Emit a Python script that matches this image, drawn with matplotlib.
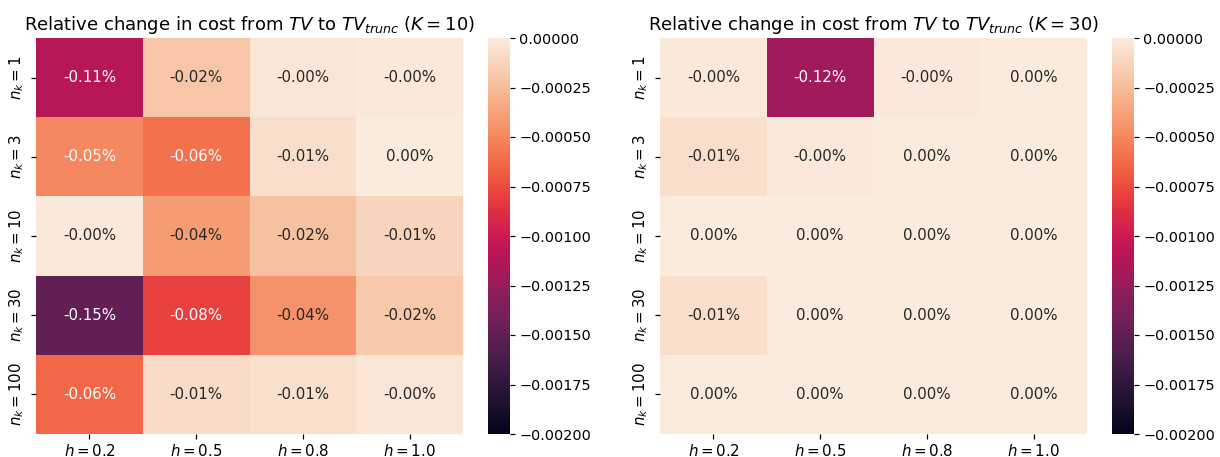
import numpy as np
import matplotlib
matplotlib.use("Agg")
import matplotlib.pyplot as plt
import matplotlib.ticker as mticker
import seaborn as sns

h_labels = ["$h=0.2$", "$h=0.5$", "$h=0.8$", "$h=1.0$"]
n_labels = ["$n_k=1$", "$n_k=3$", "$n_k=10$", "$n_k=30$", "$n_k=100$"]

# relative change values (fractions), rows = n_k, cols = h
vals_K10 = np.array([
    [-0.00110, -0.00020, -0.00003, -0.00002],
    [-0.00050, -0.00060, -0.00007,  0.00001],
    [-0.00002, -0.00040, -0.00022, -0.00012],
    [-0.00150, -0.00080, -0.00045, -0.00018],
    [-0.00064, -0.00008, -0.00006, -0.00003],
])
vals_K30 = np.array([
    [-0.00002, -0.00120, -0.00001,  0.00000],
    [-0.00007, -0.00001,  0.00000,  0.00000],
    [ 0.00000,  0.00000,  0.00000,  0.00000],
    [-0.00007,  0.00000,  0.00000,  0.00000],
    [ 0.00000,  0.00000,  0.00000,  0.00000],
])
K_values = [10, 30]
cbar_ticks = [0.0, -0.00025, -0.0005, -0.00075, -0.001, -0.00125, -0.0015, -0.00175, -0.002]

s = 1.08
plt.rcParams.update({
    "font.size": 10 * s,
    "xtick.labelsize": 10 * s,
    "ytick.labelsize": 10 * s,
    "axes.titlesize": 12 * s,
    "xtick.major.size": 3.5 * s,
    "ytick.major.size": 3.5 * s,
    "xtick.major.width": 0.8 * s,
    "ytick.major.width": 0.8 * s,
    "xtick.major.pad": 2.6,
})

W, H = 1220, 457
fig = plt.figure(figsize=(W / 100, H / 100), dpi=100)

def box(x0, x1, y0, y1):
    return [x0 / W, 1 - y1 / H, (x1 - x0) / W, (y1 - y0) / H]

layout = [
    (box(36, 463, 38, 434), box(488, 510, 38, 434)),
    (box(660, 1087, 38, 434), box(1112, 1134, 38, 434)),
]

def cfmt(x, pos):
    if abs(x) < 1e-12:
        return "0.00000"
    return f"{x:.5f}".replace("-", "\u2212")

for (axbox, cbbox), vals, K in zip(layout, [vals_K10, vals_K30], K_values):
    ax = fig.add_axes(axbox)
    cax = fig.add_axes(cbbox)
    sns.heatmap(vals, ax=ax, cbar_ax=cax, annot=True, fmt=".2%",
                vmin=-0.002, vmax=0.0,
                xticklabels=h_labels, yticklabels=n_labels,
                annot_kws={"fontsize": 10 * s})
    ax.set_yticklabels(n_labels, rotation=90, va="center")
    ax.set_title(f"Relative change in cost from $TV$ to $TV_{{trunc}}$ ($K={K}$)")
    cbar = ax.collections[0].colorbar
    cbar.set_ticks(cbar_ticks)
    cbar.ax.yaxis.set_major_formatter(mticker.FuncFormatter(cfmt))
    cbar.ax.tick_params(labelsize=10.4, pad=3)
    cbar.outline.set_visible(False)

fig.savefig("out.png", dpi=100)
